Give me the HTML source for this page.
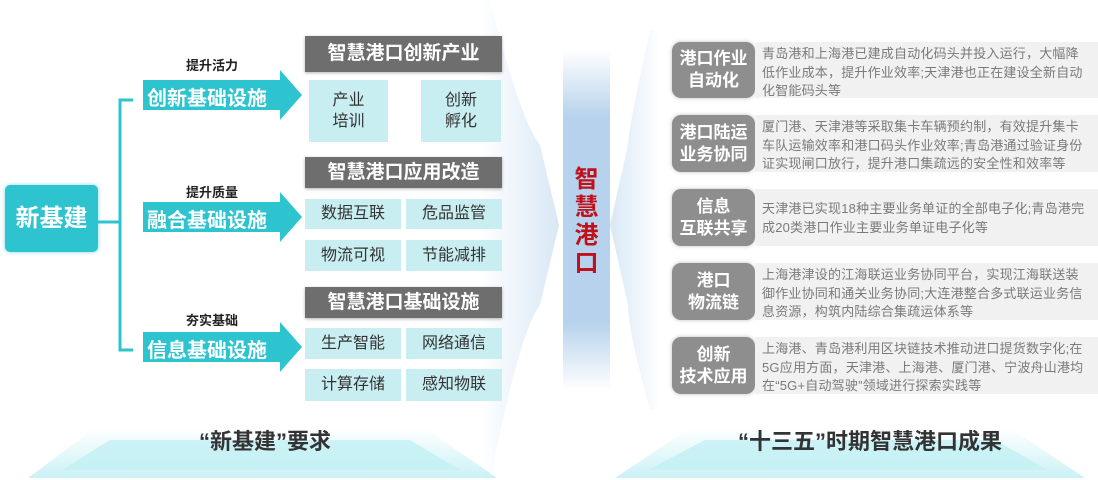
<!DOCTYPE html>
<html><head><meta charset="utf-8"><style>
*{margin:0;padding:0;box-sizing:border-box}
body{width:1098px;height:480px;background:#fff;position:relative;overflow:hidden;font-family:"Liberation Sans","Noto Sans CJK SC",sans-serif}
.a{position:absolute}
.hd{position:absolute;background:#6e6e6e;color:#fff;font-weight:bold;font-size:19px;text-align:center;box-shadow:0 1px 3px rgba(0,0,0,.3)}
.c{position:absolute;background:#c9eef2;color:#333;font-size:16px;text-align:center}
.lb{position:absolute;font-size:13px;color:#222;font-weight:bold}
.lab{position:absolute;left:672px;width:83px;background:#8e8e8e;border-radius:9px;color:#fff;font-weight:bold;font-size:17px;line-height:22px;text-align:center;display:flex;align-items:center;justify-content:center;box-shadow:0 0 4px rgba(0,0,0,.25)}
.tx{position:absolute;left:755px;width:343px;background:#f1f1f1;color:#7a7a7a;font-size:13px;line-height:18.5px;letter-spacing:0.2px;padding:3px 0 0 7px;white-space:nowrap;overflow:hidden}
</style></head><body>
<svg class="a" style="left:0;top:0" width="1098" height="480">
<defs>
<linearGradient id="bar" x1="0" y1="0" x2="0" y2="1"><stop offset="0" stop-color="#fff"/><stop offset=".2" stop-color="#b6d2ec"/><stop offset=".8" stop-color="#b6d2ec"/><stop offset="1" stop-color="#fff"/></linearGradient>
<linearGradient id="fl" x1="0" y1="0" x2="1" y2="0"><stop offset="0" stop-color="#fff"/><stop offset="1" stop-color="#cfe2f3"/></linearGradient>
<linearGradient id="fr" x1="1" y1="0" x2="0" y2="0"><stop offset="0" stop-color="#fff"/><stop offset="1" stop-color="#cfe2f3"/></linearGradient>
<linearGradient id="tp" x1="0" y1="0" x2="0" y2="1"><stop offset="0" stop-color="#fff"/><stop offset="1" stop-color="#b5ecf2"/></linearGradient>
</defs>
<path d="M490 0 Q520 120 540 145 L559 225 L540 305 Q520 330 490 480 L480 480 L480 0Z" fill="url(#fl)" opacity=".8"/>
<path d="M650 30 Q628 130 628 145 L610 225 L628 305 Q628 330 650 410 L660 410 L660 30Z" fill="url(#fr)" opacity=".8"/>
<rect x="563" y="50" width="47" height="340" fill="url(#bar)"/>
<polygon points="95,428 425,428 497,478 28,478" fill="url(#tp)" opacity=".7"/>
<polygon points="110,440 410,440 460,470 62,470" fill="#c2f0f4" opacity=".8"/>
<polygon points="690,428 1010,428 1085,478 615,478" fill="url(#tp)" opacity=".7"/>
<polygon points="705,440 995,440 1048,470 648,470" fill="#c2f0f4" opacity=".8"/>
<path d="M98 222 H120 M133 100 H120 V350 H133" stroke="#2ec4cf" stroke-width="3" fill="none"/>
<g fill="#2ec4cf">
<polygon points="143,80 280,80 280,70 302,95 280,120 280,110 143,110"/>
<polygon points="143,202 280,202 280,192 302,217 280,242 280,232 143,232"/>
<polygon points="143,332 280,332 280,322 302,347 280,372 280,362 143,362"/>
</g>
</svg>
<div class="a" style="left:5px;top:185px;width:93px;height:67px;background:#2ec4cf;border-radius:5px;color:#fff;font-size:24px;font-weight:bold;line-height:67px;text-align:center;box-shadow:0 0 4px rgba(46,196,207,.6)">新基建</div>
<div class="lb" style="left:186px;top:55px">提升活力</div>
<div class="lb" style="left:186px;top:182px">提升质量</div>
<div class="lb" style="left:186px;top:310px">夯实基础</div>
<div class="a" style="left:147px;top:82px;color:#fff;font-size:20px;font-weight:bold">创新基础设施</div>
<div class="a" style="left:147px;top:204px;color:#fff;font-size:20px;font-weight:bold">融合基础设施</div>
<div class="a" style="left:147px;top:334px;color:#fff;font-size:20px;font-weight:bold">信息基础设施</div>
<div class="hd" style="left:305px;top:36px;width:197px;height:36px;line-height:36px">智慧港口创新产业</div>
<div class="c" style="left:309px;top:80px;width:79px;height:62px;padding-top:10px;line-height:21px">产业<br>培训</div>
<div class="c" style="left:421px;top:80px;width:80px;height:62px;padding-top:10px;line-height:21px">创新<br>孵化</div>
<div class="hd" style="left:305px;top:157px;width:197px;height:31px;line-height:31px">智慧港口应用改造</div>
<div class="c" style="left:305px;top:199px;width:96px;height:30px;line-height:30px">数据互联</div>
<div class="c" style="left:406px;top:199px;width:96px;height:30px;line-height:30px">危品监管</div>
<div class="c" style="left:305px;top:240px;width:96px;height:31px;line-height:31px">物流可视</div>
<div class="c" style="left:406px;top:240px;width:96px;height:31px;line-height:31px">节能减排</div>
<div class="hd" style="left:305px;top:287px;width:197px;height:31px;line-height:31px">智慧港口基础设施</div>
<div class="c" style="left:305px;top:328px;width:96px;height:31px;line-height:31px">生产智能</div>
<div class="c" style="left:406px;top:328px;width:96px;height:31px;line-height:31px">网络通信</div>
<div class="c" style="left:305px;top:369px;width:96px;height:32px;line-height:32px">计算存储</div>
<div class="c" style="left:406px;top:369px;width:96px;height:32px;line-height:32px">感知物联</div>
<div class="a" style="left:165px;top:424px;width:200px;text-align:center;font-size:22px;font-weight:bold;color:#333">“新基建”要求</div>
<div class="a" style="left:720px;top:424px;width:300px;text-align:center;font-size:22px;font-weight:bold;color:#333">“十三五”时期智慧港口成果</div>
<div class="a" style="left:573px;top:166px;width:27px;color:#c0101a;font-size:24px;font-weight:bold;line-height:28px;text-align:center">智<br>慧<br>港<br>口</div>
<div class="lab" style="top:42px;height:56px">港口作业<br>自动化</div>
<div class="tx" style="top:42px;height:56px">青岛港和上海港已建成自动化码头并投入运行，大幅降<br>低作业成本，提升作业效率;天津港也正在建设全新自动<br>化智能码头等</div>
<div class="lab" style="top:115px;height:57px">港口陆运<br>业务协同</div>
<div class="tx" style="top:115px;height:57px">厦门港、天津港等采取集卡车辆预约制，有效提升集卡<br>车队运输效率和港口码头作业效率;青岛港通过验证身份<br>证实现闸口放行，提升港口集疏远的安全性和效率等</div>
<div class="lab" style="top:189px;height:57px">信息<br>互联共享</div>
<div class="tx" style="top:189px;height:57px;padding-top:11px">天津港已实现18种主要业务单证的全部电子化;青岛港完<br>成20类港口作业主要业务单证电子化等</div>
<div class="lab" style="top:263px;height:57px">港口<br>物流链</div>
<div class="tx" style="top:263px;height:57px">上海港津设的江海联运业务协同平台，实现江海联送装<br>御作业协同和通关业务协同;大连港整合多式联运业务信<br>息资源，构筑内陆综合集疏运体系等</div>
<div class="lab" style="top:337px;height:57px">创新<br>技术应用</div>
<div class="tx" style="top:337px;height:57px">上海港、青岛港利用区块链技术推动进口提货数字化;在<br>5G应用方面，天津港、上海港、厦门港、宁波舟山港均<br>在“5G+自动驾驶”领域进行探索实践等</div>
</body></html>
